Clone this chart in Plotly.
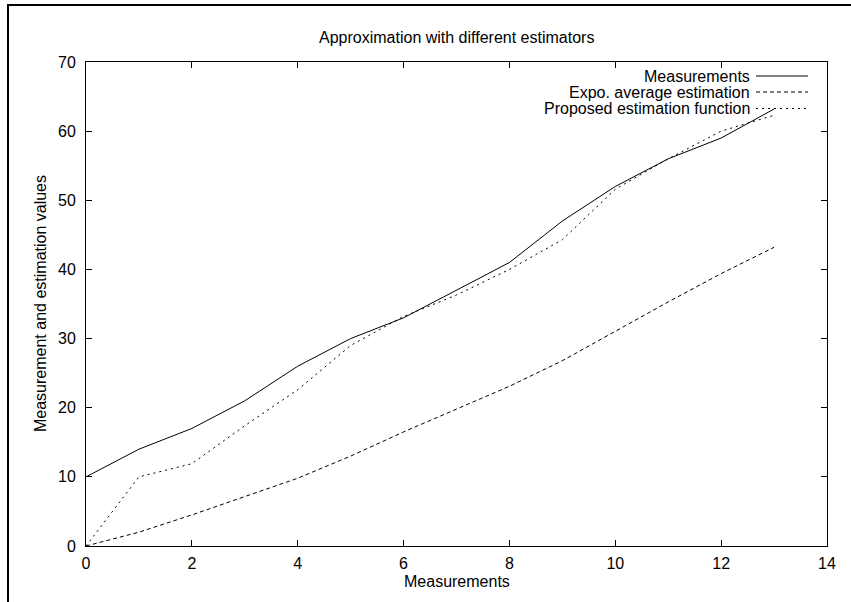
import plotly.graph_objects as go

x_values = list(range(14))
measurements = [10, 14, 17, 21, 26, 30, 33, 37, 41, 47, 52, 56, 59, 63.2]
expo_average = [0, 2, 4.5, 7.1, 9.8, 13, 16.5, 19.8, 23.1, 26.8, 31.1, 35.3, 39.4, 43.2]
proposed = [0, 10, 11.9, 17.4, 22.6, 29, 33.2, 36.3, 40.0, 44.3, 51.6, 56.0, 60.0, 62.3]

series_names = ["Measurements", "Expo. average estimation", "Proposed estimation function"]
series_values = [measurements, expo_average, proposed]
series_dash = ["solid", "4px,3px", "2px,4px"]

title_text = "Approximation with different estimators"
x_title = "Measurements"
y_title = "Measurement and estimation values"

FONT = "Liberation Sans, Arial, Helvetica, sans-serif"
FS = 16

fig = go.Figure()
for name, vals, dash in zip(series_names, series_values, series_dash):
    fig.add_trace(go.Scatter(x=x_values, y=vals, mode="lines", name=name,
                             line=dict(color="black", width=1, dash=dash),
                             showlegend=False))

# plot area in pixels: x 86..827, y 62..546
L, R, T, B = 86, 827, 62, 546
W, H = 851, 602
pw, ph = R - L, B - T

def px(xp):
    return (xp - L) / pw

def py(yp):
    return (B - yp) / ph

shapes = []
annotations = []
legend_rows = [76, 92, 108.5]
for name, dash, yrow in zip(series_names, series_dash, legend_rows):
    annotations.append(dict(x=px(752), y=py(yrow), xref="paper", yref="paper",
                            text=name, showarrow=False, xanchor="right", yanchor="middle",
                            font=dict(family=FONT, size=FS, color="black")))
    shapes.append(dict(type="line", xref="paper", yref="paper",
                       x0=px(756), x1=px(808), y0=py(yrow), y1=py(yrow),
                       line=dict(color="black", width=1, dash=dash)))

# outer frame (top and left edges visible, rest beyond the page)
shapes.append(dict(type="rect", xref="paper", yref="paper",
                   x0=px(8), x1=px(W + 20), y0=py(H + 20), y1=py(5),
                   line=dict(color="black", width=2), fillcolor="rgba(0,0,0,0)"))

annotations.append(dict(x=0.5, y=py(38), xref="paper", yref="paper", text=title_text,
                        showarrow=False, xanchor="center", yanchor="middle",
                        font=dict(family=FONT, size=FS, color="black")))
annotations.append(dict(x=0.5, y=py(581), xref="paper", yref="paper", text=x_title,
                        showarrow=False, xanchor="center", yanchor="middle",
                        font=dict(family=FONT, size=FS, color="black")))
annotations.append(dict(x=px(40), y=py(304), xref="paper", yref="paper", text=y_title,
                        showarrow=False, xanchor="center", yanchor="middle", textangle=-90,
                        font=dict(family=FONT, size=FS, color="black")))

fig.update_layout(
    width=W, height=H,
    margin=dict(l=L, r=W - R, t=T, b=H - B, pad=0, autoexpand=False),
    paper_bgcolor="white", plot_bgcolor="white",
    font=dict(family=FONT, size=FS, color="black"),
    shapes=shapes, annotations=annotations,
    showlegend=False,
)
fig.update_xaxes(range=[0, 14], tickmode="array", tickvals=list(range(0, 15, 2)),
                 ticks="inside", ticklen=6, tickcolor="black", showline=True,
                 linecolor="black", linewidth=1, mirror="ticks", showgrid=False,
                 zeroline=False, automargin=False, ticklabelstandoff=3,
                 tickfont=dict(family=FONT, size=FS, color="black"))
fig.update_yaxes(range=[0, 70], tickmode="array", tickvals=list(range(0, 71, 10)),
                 ticks="inside", ticklen=6, tickcolor="black", showline=True,
                 linecolor="black", linewidth=1, mirror="ticks", showgrid=False,
                 zeroline=False, automargin=False, ticklabelstandoff=6,
                 tickfont=dict(family=FONT, size=FS, color="black"))

fig.write_html("out.html", config={"displayModeBar": False},
               post_script="document.body.style.margin='0';")
